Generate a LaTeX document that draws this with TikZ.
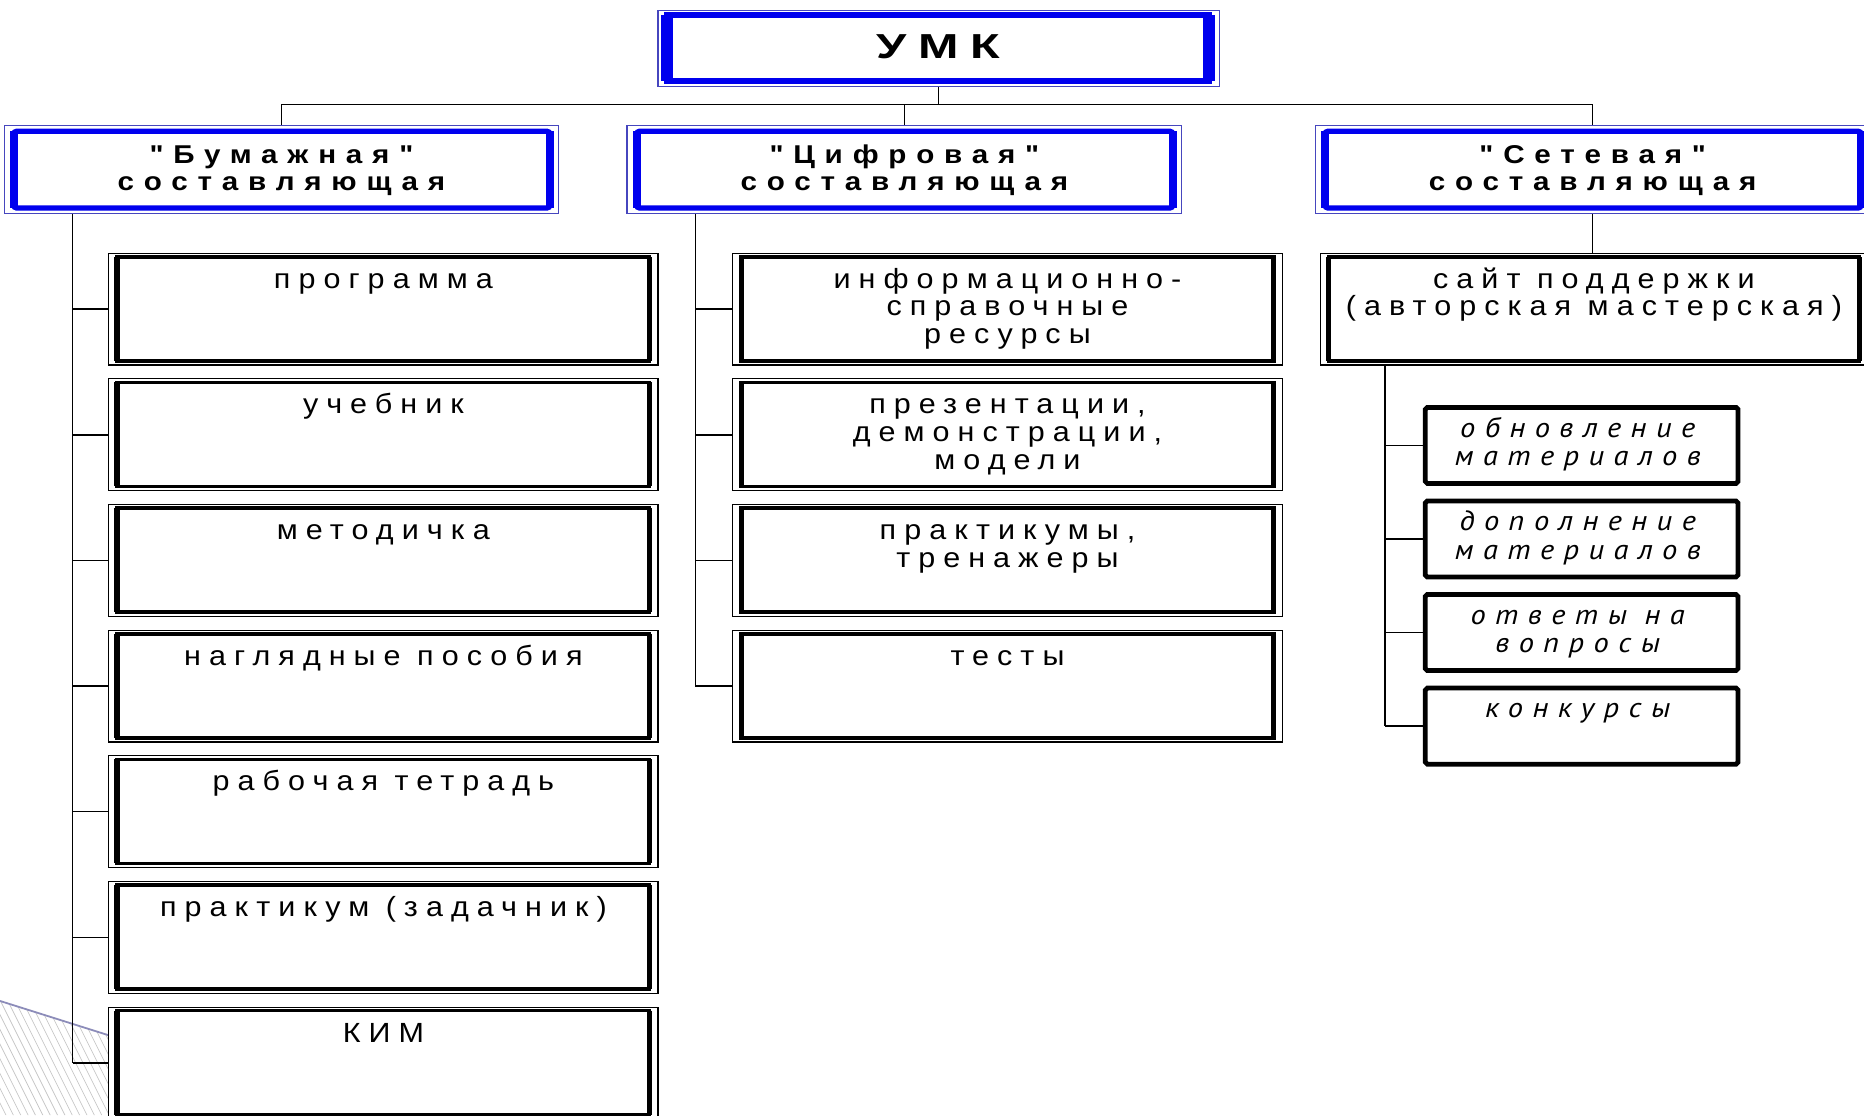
\documentclass[tikz,border=0pt]{standalone}
\usepackage{fontspec}
\setmainfont{Liberation Sans}
\newfontfamily\regfont{Liberation Sans}[LetterSpace=29,FakeStretch=1.1]
\newfontfamily\headfont{Liberation Sans}[LetterSpace=38,FakeStretch=1.15]
\newfontfamily\topfont{Liberation Sans}[LetterSpace=34,FakeStretch=1.4]
\newfontfamily\subfont{PT Sans}[LetterSpace=34,FakeStretch=1.1]
\usetikzlibrary{calc}
\definecolor{hblue}{RGB}{0,0,238}
\definecolor{hedge}{RGB}{70,70,190}
\definecolor{deco}{RGB}{140,140,185}
\def\px{0.6pt}
\newcommand\mylines[1]{\parbox[t]{300pt}{\centering #1}}
\tikzset{
  topbox/.style={draw=hedge, line width=0.6pt, fill=white, anchor=north west, inner sep=0pt,
     minimum width={472*\px}, minimum height={63.8*\px}},
  hbox/.style={draw=hedge, line width=0.6pt, fill=white, anchor=north west, inner sep=0pt,
     minimum width={466.5*\px}, minimum height={74*\px}},
  pbox/.style={draw=black, line width=0.6pt, fill=white, anchor=north west, inner sep=0pt,
     minimum width={462*\px}, minimum height={94*\px}},
  tbox/.style={draw=black, line width=2.4pt, fill=white, anchor=north west, inner sep=0pt,
     rounded corners=1pt, minimum width={263*\px}, minimum height={64*\px}},
  wire/.style={draw=black, line width=0.8pt},
  hatchline/.style={draw=gray!45, line width=0.35pt},
  decoline/.style={draw=deco, line width=0.9pt},
  toptext/.style={anchor=base, inner sep=0pt,
     font=\topfont\bfseries\fontsize{17.5pt}{19pt}\selectfont},
  htext/.style={anchor=base, inner sep=0pt,
     font=\headfont\bfseries\fontsize{13pt}{13.8pt}\selectfont},
  rtext/.style={anchor=base, inner sep=0pt,
     font=\regfont\fontsize{14pt}{13.9pt}\selectfont},
  ttext/.style={anchor=base, inner sep=0pt, xshift=-2pt,
     font=\subfont\itshape\fontsize{14pt}{14.4pt}\selectfont},
}
% inner thick frame of the white boxes
\newcommand\myPframe[1]{%
  \draw[black, line width=1.8pt] ([xshift={7.5*\px},yshift={-3.5*\px}]#1.north west)
      rectangle ([xshift={-7.5*\px},yshift={4*\px}]#1.south east);
  \draw[black, line width=2.7pt] ([xshift={7.5*\px},yshift={-3.5*\px}]#1.north west)
      -- ([xshift={7.5*\px},yshift={4*\px}]#1.south west);
  \draw[black, line width=2.7pt] ([xshift={-7.5*\px},yshift={-3.5*\px}]#1.north east)
      -- ([xshift={-7.5*\px},yshift={4*\px}]#1.south east);
}
% inner thick blue frame of the heading boxes
\newcommand\myHframe[1]{%
  \draw[hblue, line width=2.7pt, rounded corners=1.5pt] ([xshift={8.6*\px},yshift={-5.4*\px}]#1.north west)
      rectangle ([xshift={-8*\px},yshift={5*\px}]#1.south east);
  \draw[hblue, line width=3.9pt] ([xshift={8.6*\px},yshift={-5.4*\px}]#1.north west)
      -- ([xshift={8.6*\px},yshift={5*\px}]#1.south west);
  \draw[hblue, line width=3.9pt] ([xshift={-8*\px},yshift={-5.4*\px}]#1.north east)
      -- ([xshift={-8*\px},yshift={5*\px}]#1.south east);
}
\begin{document}
\begin{tikzpicture}[x=0.6pt,y=-0.6pt]
\useasboundingbox (0,0) rectangle (1568,938);
\clip (0,0) rectangle (1568,938);

% decoration of the slide (bottom left)
\begin{scope}
  \clip (0,842) -- (95,872) -- (95,938) -- (0,938) -- cycle;
  \foreach \k in {0,...,40} \draw[hatchline] ({-80+\k*6.2},830) -- ++(58,116);
\end{scope}
\draw[decoline] (0,842) -- (95,872);

% top box
\node[topbox] (umk) at (553,8.5) {};
\draw[hblue, line width=3pt] ([xshift={8*\px},yshift={-4.5*\px}]umk.north west)
    rectangle ([xshift={-9*\px},yshift={5.5*\px}]umk.south east);
\draw[hblue, line width=6pt] ([xshift={8*\px},yshift={-4.5*\px}]umk.north west)
    -- ([xshift={8*\px},yshift={5.5*\px}]umk.south west);
\draw[hblue, line width=6pt] ([xshift={-9*\px},yshift={-4.5*\px}]umk.north east)
    -- ([xshift={-9*\px},yshift={5.5*\px}]umk.south east);
\node[toptext] (umkt) at ([yshift={-40.5*\px}]umk.north) {УМК};

% heading boxes
\node[hbox] (bum) at (3,105) {};
\node[hbox] (cif) at (527,105) {};
\node[hbox] (set) at (1106,105) {};
\foreach \n in {bum,cif,set} \myHframe{\n};
\node[htext] (bumt) at ([yshift={-32.4*\px}]bum.north) {\mylines{"Бумажная"\\составляющая}};
\node[htext] (cift) at ([yshift={-32.4*\px}]cif.north) {\mylines{"Цифровая"\\составляющая}};
\node[htext] (sett) at ([yshift={-32.4*\px}]set.north) {\mylines{"Сетевая"\\составляющая}};

% bus from the top box to the headings
\coordinate (bus) at (0,88);
\draw[wire] (umk.south) -- (umk.south |- bus);
\draw[wire] (bum.north |- bus) -- (set.north |- bus);
\foreach \n in {bum,cif,set} \draw[wire] (\n.north |- bus) -- (\n.north);

% left column
\foreach \i/\t in {1/{программа},2/{учебник},3/{методичка},4/{наглядные пособия},
                   5/{рабочая тетрадь},6/{практикум (задачник)},7/{КИМ}} {
  \node[pbox] (p\i) at (91,{212.5+(\i-1)*105.7}) {};
  \myPframe{p\i}
  \node[rtext] (p\i t) at ([yshift={-30*\px}]p\i.north) {\mylines{\t}};
}
\coordinate (tl) at (61,0);
\draw[wire] (tl |- bum.south) -- (tl |- p7.west);
\foreach \i in {1,...,7} \draw[wire] (tl |- p\i.west) -- (p\i.west);

% middle column
\foreach \i/\t in {1/{информационно-\\справочные\\ресурсы},2/{презентации,\\демонстрации,\\модели},
                   3/{практикумы,\\тренажеры},4/{тесты}} {
  \node[pbox] (d\i) at (616,{212.5+(\i-1)*105.7}) {};
  \myPframe{d\i}
  \node[rtext] (d\i t) at ([yshift={-30*\px}]d\i.north) {\mylines{\t}};
}
\coordinate (tm) at (585,0);
\draw[wire] (tm |- cif.south) -- (tm |- d4.west);
\foreach \i in {1,...,4} \draw[wire] (tm |- d\i.west) -- (d\i.west);

% right column
\node[pbox, minimum width={460.5*\px}] (site) at (1110,212.5) {};
\myPframe{site}
\node[rtext] (sitet) at ([yshift={-30*\px}]site.north) {\mylines{сайт поддержки\\(авторская мастерская)}};
\draw[wire] (set.south) -- (set.south |- site.north);

\foreach \i/\t in {1/{обновление\\материалов},2/{дополнение\\материалов},
                   3/{ответы на\\вопросы},4/{конкурсы}} {
  \node[tbox] (s\i) at (1197,{340.7+(\i-1)*78.7}) {};
  \node[ttext] (s\i t) at ([yshift={-27*\px}]s\i.north) {\mylines{\t}};
}
\coordinate (tr) at (1165,0);
\draw[wire] (tr |- site.south) -- (tr |- s4.west);
\foreach \i in {1,...,4} \draw[wire] (tr |- s\i.west) -- (s\i.west);
\end{tikzpicture}
\end{document}
